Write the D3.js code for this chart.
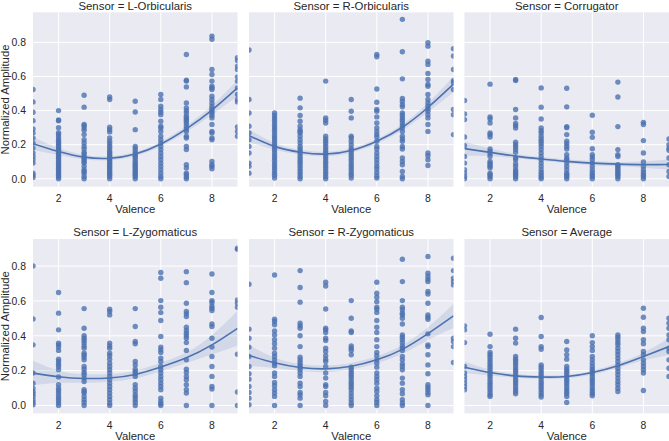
<!DOCTYPE html>
<html><head><meta charset="utf-8">
<script src="https://cdn.jsdelivr.net/npm/d3@7"></script>
<style>
html,body{margin:0;padding:0;background:#fff;}
svg{display:block;font-family:"Liberation Sans",Arial,Helvetica,sans-serif;}
</style></head>
<body><svg id="chart" width="669" height="441"></svg>
<script>
// ---------- data ----------
const sensorNames = ["L-Orbicularis","R-Orbicularis","Corrugator","L-Zygomaticus","R-Zygomaticus","Average"];
const valence = [1,2,3,4,5,6,7,8,9];
const xTicks = [2,4,6,8];
const yTicks = [0,0.2,0.4,0.6,0.8];
const yTickLabels = ["0.0","0.2","0.4","0.6","0.8"];

const lOrbicularisPoints = [
 [0.524,0.451,0.39,0.341,0.292,0.269,0.239,0.21,0.18,0.151,0.131,0.112,0.092,0.033,0.02,0.008],
 [0.40,0.345,0.34,0.30,0.27,0.26,0.245,0.23,0.22,0.21,0.2,0.19,0.18,0.17,0.16,0.15,0.14,0.13,0.12,0.11,0.1,0.09,0.08,0.07,0.06,0.05,0.04,0.03,0.02,0.01,0.0],
 [0.49,0.42,0.318,0.312,0.298,0.284,0.259,0.229,0.21,0.19,0.175,0.155,0.145,0.131,0.122,0.112,0.10,0.092,0.073,0.053,0.043,0.033,0.014,0],
 [0.48,0.465,0.302,0.288,0.275,0.239,0.22,0.206,0.19,0.176,0.161,0.151,0.141,0.131,0.122,0.112,0.102,0.092,0.082,0.073,0.063,0.053,0.043,0.033,0.024,0.014,0],
 [0.455,0.392,0.288,0.19,0.176,0.161,0.147,0.137,0.127,0.116,0.102,0.092,0.082,0.073,0.063,0.053,0.043,0.033,0.024,0.014,0],
 [0.494,0.465,0.425,0.406,0.39,0.376,0.337,0.308,0.298,0.278,0.249,0.229,0.21,0.19,0.171,0.151,0.131,0.112,0.092,0.073,0.053,0.033,0.014,0],
 [0.729,0.578,0.573,0.539,0.445,0.416,0.4,0.386,0.367,0.357,0.347,0.337,0.324,0.308,0.292,0.278,0.249,0.239,0.19,0.171,0.082,0.063,0.033,0.024,0.01,0],
 [0.837,0.818,0.641,0.612,0.573,0.543,0.533,0.524,0.484,0.465,0.445,0.425,0.41,0.396,0.386,0.371,0.357,0.318,0.278,0.269,0.239,0.229,0.102,0.082,0.073,0.059],
 [0.71,0.694,0.661,0.641,0.598,0.573,0.533,0.494,0.465,0.451,0.304,0.278,0.249]
];
const lOrbicularisFit = [0.206,0.16,0.127,0.12,0.145,0.204,0.293,0.403,0.533];
const lOrbicularisCi  = [0.037,0.02,0.013,0.012,0.012,0.013,0.018,0.027,0.047];

const rOrbicularisPoints = [
 [0.755,0.465,0.386,0.308,0.269,0.229,0.19,0.151,0.092,0.073,0.033],
 [0.386,0.371,0.357,0.343,0.327,0.312,0.298,0.284,0.269,0.253,0.239,0.225,0.21,0.194,0.18,0.167,0.151,0.135,0.122,0.108,0.092,0.078,0.063,0.049,0.033,0.02,0.004],
 [0.473,0.416,0.371,0.337,0.308,0.288,0.278,0.269,0.249,0.229,0.21,0.19,0.175,0.161,0.147,0.131,0.116,0.102,0.088,0.073,0.057,0.043,0.029,0.014,0],
 [0.573,0.357,0.343,0.327,0.249,0.233,0.22,0.206,0.19,0.175,0.161,0.147,0.131,0.118,0.102,0.088,0.073,0.059,0.043,0.029,0.014,0],
 [0.465,0.396,0.357,0.249,0.239,0.22,0.2,0.18,0.167,0.151,0.137,0.122,0.108,0.092,0.078,0.063,0.049,0.033,0.02,0.004],
 [0.729,0.716,0.527,0.449,0.406,0.396,0.363,0.327,0.298,0.278,0.259,0.245,0.22,0.19,0.175,0.151,0.131,0.112,0.092,0.073,0.057,0.037,0.018,0.004],
 [0.935,0.745,0.586,0.471,0.455,0.435,0.422,0.386,0.373,0.357,0.343,0.327,0.312,0.298,0.278,0.249,0.233,0.22,0.19,0.175,0.122,0.102,0.082,0.043,0.014,0],
 [0.798,0.778,0.69,0.671,0.618,0.582,0.553,0.543,0.494,0.465,0.445,0.425,0.41,0.396,0.376,0.357,0.318,0.278,0.151,0.135,0.112,0.078],
 [0.763,0.72,0.641,0.576,0.563,0.524,0.406,0.376,0.259]
];
const rOrbicularisFit = [0.253,0.19,0.156,0.145,0.166,0.22,0.302,0.418,0.555];
const rOrbicularisCi  = [0.037,0.02,0.014,0.013,0.013,0.014,0.018,0.027,0.047];

const corrugatorPoints = [
 [0.459,0.38,0.347,0.245,0.194,0.131,0.092,0.053,0.033,0.014,0],
 [0.555,0.363,0.351,0.327,0.269,0.259,0.245,0.175,0.161,0.147,0.131,0.102,0.092,0.082,0.073,0.063,0.033,0.024,0.014,0],
 [0.582,0.576,0.406,0.357,0.324,0.312,0.298,0.214,0.2,0.186,0.171,0.155,0.122,0.112,0.088,0.073,0.053,0.043,0.033,0.024,0.014,0],
 [0.533,0.42,0.351,0.298,0.282,0.269,0.249,0.233,0.22,0.206,0.19,0.171,0.151,0.131,0.112,0.092,0.073,0.053,0.037,0.024,0.01,0],
 [0.531,0.422,0.306,0.3,0.259,0.22,0.206,0.19,0.175,0.141,0.122,0.112,0.092,0.073,0.053,0.033,0.024,0.014,0],
 [0.373,0.273,0.243,0.176,0.141,0.127,0.112,0.092,0.073,0.053,0.037,0.024,0.014,0],
 [0.567,0.48,0.306,0.171,0.141,0.131,0.082,0.073,0.063,0.053,0.043,0.033,0.024,0.014,0],
 [0.331,0.318,0.224,0.151,0.098,0.073,0.053,0.037,0.024,0.014,0],
 [0.233,0.2,0.18,0.167,0.122,0.082,0.043,0.014]
];
const corrugatorFit = [0.177,0.155,0.133,0.116,0.102,0.092,0.086,0.083,0.084];
const corrugatorCi  = [0.04,0.022,0.013,0.011,0.011,0.012,0.013,0.018,0.03];

const lZygomaticusPoints = [
 [0.801,0.497,0.348,0.186,0.128,0.099,0.08,0.067,0.052,0.033,0.017,0.004],
 [0.648,0.53,0.434,0.358,0.348,0.335,0.316,0.266,0.252,0.237,0.224,0.205,0.163,0.119,0.099,0.086,0.071,0.056,0.042,0.029,0.014,0],
 [0.556,0.443,0.4,0.386,0.373,0.358,0.342,0.329,0.3,0.29,0.277,0.262,0.224,0.208,0.189,0.176,0.157,0.138,0.09,0.08,0.071,0.052,0.033,0.017,0],
 [0.552,0.539,0.52,0.358,0.342,0.329,0.3,0.285,0.266,0.243,0.224,0.205,0.186,0.167,0.148,0.128,0.109,0.09,0.071,0.052,0.033,0.014,0],
 [0.556,0.453,0.367,0.354,0.252,0.233,0.208,0.195,0.182,0.167,0.119,0.099,0.08,0.061,0.048,0.033,0.017,0],
 [0.763,0.73,0.602,0.564,0.533,0.488,0.396,0.335,0.32,0.304,0.272,0.252,0.224,0.205,0.186,0.167,0.148,0.128,0.109,0.09,0.042,0.023,0.01,0],
 [0.768,0.705,0.587,0.539,0.526,0.51,0.449,0.43,0.415,0.4,0.386,0.361,0.316,0.262,0.208,0.189,0.167,0.148,0.119,0.09,0.071,0],
 [0.755,0.648,0.602,0.591,0.571,0.558,0.545,0.468,0.453,0.386,0.335,0.281,0.224,0.167,0.109,0.094,0],
 [0.902,0.896,0.606,0.587,0.564,0.294,0.077,0]
];
const lZygomaticusFit = [0.186,0.165,0.155,0.158,0.178,0.221,0.274,0.348,0.443];
const lZygomaticusCi  = [0.07,0.035,0.025,0.022,0.022,0.024,0.03,0.055,0.1];

const rZygomaticusPoints = [
 [0.696,0.438,0.386,0.335,0.281,0.224,0.182,0.151,0.109,0.075,0.042,0.004],
 [0.749,0.495,0.482,0.463,0.428,0.405,0.377,0.354,0.329,0.3,0.281,0.262,0.243,0.228,0.186,0.167,0.132,0.113,0.09,0.071,0.052,0],
 [0.774,0.677,0.593,0.472,0.457,0.443,0.4,0.338,0.277,0.262,0.247,0.233,0.22,0.205,0.186,0.167,0.128,0.109,0.075,0.061,0.042,0],
 [0.707,0.686,0.554,0.443,0.434,0.419,0.386,0.373,0.329,0.31,0.285,0.266,0.252,0.224,0.186,0.157,0.119,0.109,0.075,0.056,0.023,0],
 [0.602,0.501,0.428,0.419,0.342,0.329,0.316,0.291,0.22,0.205,0.19,0.176,0.163,0.148,0.132,0.119,0.105,0.09,0.071,0.052,0.033,0.014,0],
 [0.707,0.644,0.621,0.596,0.564,0.552,0.533,0.488,0.449,0.419,0.377,0.338,0.304,0.285,0.262,0.243,0.22,0.186,0.167,0.148,0.128,0.099,0.08,0.056,0.033,0.017,0],
 [0.839,0.711,0.602,0.564,0.549,0.53,0.52,0.501,0.468,0.405,0.392,0.377,0.361,0.342,0.329,0.316,0.281,0.262,0.239,0.224,0.205,0.157,0.128,0.09,0.067,0.033,0.014,0],
 [0.855,0.759,0.74,0.724,0.711,0.654,0.64,0.587,0.52,0.507,0.495,0.411,0.348,0.338,0.291,0.233,0.182,0.119,0.105,0.09,0.075,0.061,0],
 [0.845,0.774,0.73,0.711,0.692,0.386,0.367,0.338,0.247]
];
const rZygomaticusFit = [0.287,0.245,0.218,0.21,0.225,0.262,0.322,0.412,0.514];
const rZygomaticusCi  = [0.06,0.03,0.02,0.019,0.019,0.02,0.025,0.037,0.07];

const averagePoints = [
 [0.457,0.434,0.361,0.224,0.186,0.167,0.148,0.128,0.109,0.09],
 [0.409,0.338,0.304,0.291,0.277,0.262,0.247,0.233,0.22,0.205,0.19,0.176,0.163,0.148,0.132,0.119,0.105,0.09,0.075,0.061,0.052],
 [0.438,0.386,0.358,0.281,0.266,0.252,0.239,0.224,0.208,0.195,0.182,0.167,0.151,0.138,0.124,0.109,0.094,0.08,0.067],
 [0.505,0.396,0.338,0.323,0.233,0.22,0.205,0.19,0.176,0.163,0.148,0.132,0.119,0.105,0.09,0.075,0.061,0.048],
 [0.367,0.319,0.291,0.266,0.224,0.208,0.195,0.182,0.167,0.151,0.138,0.124,0.109,0.094,0.08,0.067,0.052,0.017],
 [0.4,0.361,0.338,0.316,0.281,0.262,0.243,0.224,0.208,0.195,0.182,0.167,0.151,0.138,0.124,0.109,0.094,0.08,0.067,0.056],
 [0.405,0.392,0.377,0.361,0.348,0.329,0.31,0.291,0.272,0.252,0.233,0.214,0.195,0.176,0.157,0.138,0.119,0.099,0.08],
 [0.558,0.506,0.443,0.424,0.377,0.354,0.31,0.291,0.262,0.243,0.224,0.205,0.186,0.086],
 [0.501,0.472,0.443,0.405,0.377,0.329,0.31,0.262,0.214,0.167]
];
const averageFit = [0.22,0.189,0.17,0.163,0.166,0.189,0.228,0.281,0.338];
const averageCi  = [0.033,0.017,0.011,0.01,0.01,0.011,0.014,0.022,0.048];

const panelPoints = [lOrbicularisPoints,rOrbicularisPoints,corrugatorPoints,lZygomaticusPoints,rZygomaticusPoints,averagePoints];
const panelFits = [lOrbicularisFit,rOrbicularisFit,corrugatorFit,lZygomaticusFit,rZygomaticusFit,averageFit];
const panelCis = [lOrbicularisCi,rOrbicularisCi,corrugatorCi,lZygomaticusCi,rZygomaticusCi,averageCi];
const rowYDomains = [[-0.0465,0.9765],[-0.0455,0.9555]];

// ---------- layout ----------
const colLeft = [33,249,464.5];
const panelW = 204.5;
const rowTop = [12.3,239];
const panelH = 174.4;
const blue = "#4c72b0";
const textColor = "#262626";

const svg = d3.select("#chart");
const defs = svg.append("defs");

sensorNames.forEach((name,i)=>{
  const row = Math.floor(i/3), col = i%3;
  const x0 = colLeft[col], y0 = rowTop[row];
  const x = d3.scaleLinear().domain([1,9]).range([0,panelW]);
  const y = d3.scaleLinear().domain(rowYDomains[row]).range([panelH,0]);
  const g = svg.append("g").attr("transform",`translate(${x0},${y0})`);
  const clipId = "clip"+i;
  defs.append("clipPath").attr("id",clipId).append("rect").attr("width",panelW).attr("height",panelH);

  g.append("rect").attr("width",panelW).attr("height",panelH).attr("fill","#eaeaf2");
  // grid
  g.append("g").selectAll("line").data(xTicks).join("line")
    .attr("x1",d=>x(d)).attr("x2",d=>x(d)).attr("y1",0).attr("y2",panelH)
    .attr("stroke","#fff").attr("stroke-width",1);
  g.append("g").selectAll("line").data(yTicks).join("line")
    .attr("y1",d=>y(d)).attr("y2",d=>y(d)).attr("x1",0).attr("x2",panelW)
    .attr("stroke","#fff").attr("stroke-width",1);

  const plot = g.append("g").attr("clip-path",`url(#${clipId})`);
  const pts = [];
  panelPoints[i].forEach((arr,k)=>arr.forEach(v=>pts.push([valence[k],v])));
  plot.append("g").selectAll("circle").data(pts).join("circle")
    .attr("cx",d=>x(d[0])).attr("cy",d=>y(d[1])).attr("r",2.7)
    .attr("fill",blue).attr("fill-opacity",0.8);

  const fit = panelFits[i], ci = panelCis[i];
  const band = valence.map((v,k)=>({x:v,lo:fit[k]-ci[k],hi:fit[k]+ci[k],m:fit[k]}));
  plot.append("path").datum(band)
    .attr("d",d3.area().x(d=>x(d.x)).y0(d=>y(d.lo)).y1(d=>y(d.hi)).curve(d3.curveNatural))
    .attr("fill",blue).attr("fill-opacity",0.15);
  plot.append("path").datum(band)
    .attr("d",d3.line().x(d=>x(d.x)).y(d=>y(d.m)).curve(d3.curveNatural))
    .attr("fill","none").attr("stroke",blue).attr("stroke-width",1.6);

  // x tick labels
  g.append("g").selectAll("text").data(xTicks).join("text")
    .attr("x",d=>x(d)).attr("y",panelH+15.8).attr("text-anchor","middle")
    .attr("font-size",10.4).attr("fill",textColor).text(d=>d);
  g.append("text").attr("x",panelW/2).attr("y",panelH+26.8).attr("text-anchor","middle")
    .attr("font-size",11.3).attr("fill",textColor).text("Valence");
  // title
  g.append("text").attr("x",panelW/2).attr("y",-2.8).attr("text-anchor","middle")
    .attr("font-size",11.4).attr("fill",textColor).text("Sensor = "+name);
  if(col===0){
    g.append("g").selectAll("text").data(yTicks).join("text")
      .attr("x",-7).attr("y",d=>y(d)).attr("dy","0.36em").attr("text-anchor","end")
      .attr("font-size",10.4).attr("fill",textColor).text((d,k)=>yTickLabels[k]);
    g.append("text").attr("transform",`translate(${-23.8},${panelH/2}) rotate(-90)`)
      .attr("text-anchor","middle").attr("font-size",11.3).attr("fill",textColor)
      .text("Normalized Amplitude");
  }
});
</script></body></html>
